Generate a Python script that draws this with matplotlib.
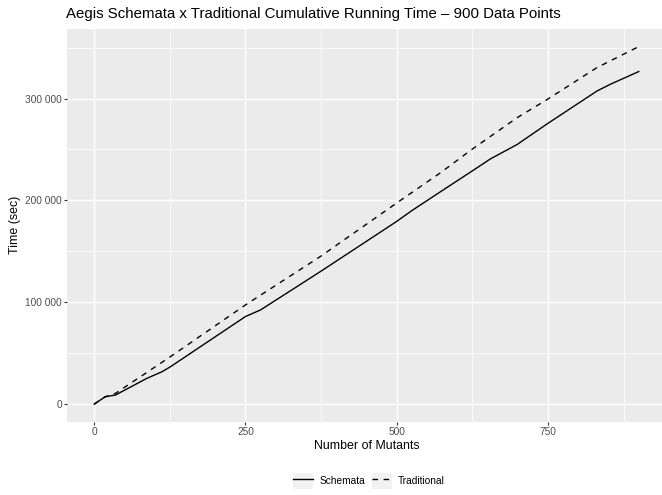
import matplotlib
matplotlib.use('Agg')
import matplotlib.pyplot as plt
from matplotlib.legend_handler import HandlerLine2D
from matplotlib.patches import Rectangle
from matplotlib.ticker import FuncFormatter, MultipleLocator

# values
schemata_x = [0, 18, 35, 87, 112, 126, 250, 275, 374, 500, 525, 572, 624, 655, 699, 749, 831, 853, 900]
schemata_y = [0, 7200, 8900, 25300, 31800, 36700, 86000, 92500, 130200, 179400, 190000,
              208400, 228600, 240800, 254900, 275300, 307400, 314000, 326500]
traditional_x = [0, 18, 35, 126, 250, 374, 500, 572, 624, 699, 749, 831, 900]
traditional_y = [0, 7200, 10500, 46600, 97400, 145000, 197500, 227000, 250000, 281200,
                 299200, 330400, 351000]
series_names = ['Schemata', 'Traditional']

plt.rcParams['font.family'] = ['Liberation Sans', 'DejaVu Sans']

fig = plt.figure(figsize=(6.62, 4.95), dpi=100)
ax = fig.add_axes([67 / 662, 73 / 495, 599 / 662, 393.3 / 495])
ax.set_facecolor('#EBEBEB')
for s in ax.spines.values():
    s.set_visible(False)

ax.plot(schemata_x, schemata_y, color='black', lw=1.0, label=series_names[0], zorder=3)
ax.plot(traditional_x, traditional_y, color='black', lw=1.0, ls=(0, (4, 4)),
        label=series_names[1], zorder=3)

xmax = max(schemata_x + traditional_x)
ymax = max(schemata_y + traditional_y)
ax.set_xlim(-0.05 * xmax, 1.05 * xmax)
ax.set_ylim(-0.05 * ymax, 1.05 * ymax)

ax.xaxis.set_major_locator(MultipleLocator(250))
ax.xaxis.set_minor_locator(MultipleLocator(125))
ax.yaxis.set_major_locator(MultipleLocator(100000))
ax.yaxis.set_minor_locator(MultipleLocator(50000))
ax.yaxis.set_major_formatter(FuncFormatter(lambda v, p: f'{int(v):,}'.replace(',', ' ')))
ax.grid(which='major', color='white', lw=1.02)
ax.grid(which='minor', color='white', lw=0.51)
ax.set_axisbelow(True)
ax.tick_params(which='major', length=2.0, width=0.8, color='#333333',
               labelsize=7.3, labelcolor='#4D4D4D', pad=1.6)
ax.tick_params(which='minor', length=0)

ax.set_xlabel('Number of Mutants', fontsize=8.9, labelpad=2.0)
ax.set_ylabel('Time (sec)', fontsize=8.9, labelpad=3.0)
fig.text(66 / 662, 1 - 14 / 495, 'Aegis Schemata x Traditional Cumulative Running Time \u2013 900 Data Points',
         fontsize=10.8, ha='left', va='center')


class KeyHandler(HandlerLine2D):
    def create_artists(self, legend, orig_handle, xdescent, ydescent, width, height, fontsize, trans):
        bg = Rectangle((-xdescent, -ydescent), width, height, facecolor='#F2F2F2',
                       edgecolor='none', transform=trans)
        return [bg] + super().create_artists(legend, orig_handle, xdescent, ydescent,
                                             width, height, fontsize, trans)


handles, labels = ax.get_legend_handles_labels()
fig.legend(handles, labels, loc='center', bbox_to_anchor=(369 / 662, 14 / 495), ncol=2,
           frameon=False, fontsize=7.3, handlelength=1.95, handleheight=2.05,
           handletextpad=0.6, columnspacing=0.7, borderaxespad=0,
           handler_map={h: KeyHandler(marker_pad=0) for h in handles})

fig.savefig('out.png', dpi=100)
